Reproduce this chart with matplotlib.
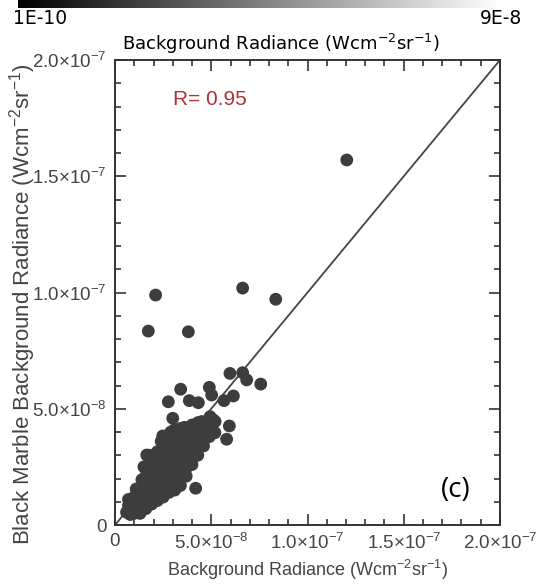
import numpy as np
import matplotlib
matplotlib.use("Agg")
import matplotlib.pyplot as plt
from matplotlib.ticker import MultipleLocator, FixedLocator

plt.rcParams['font.family'] = ['Liberation Sans', 'DejaVu Sans']
plt.rcParams['mathtext.fontset'] = 'custom'
plt.rcParams['mathtext.rm'] = 'Liberation Sans'
plt.rcParams['mathtext.it'] = 'Liberation Sans:italic'

# values in units of 1e-9 W cm^-2 sr^-1
# dense cluster along the 1:1 line (read column by column)
cluster_x = [6, 7, 7, 8,
             10, 10, 10, 11,
             13, 13, 12, 13, 14,
             16, 16, 16, 17, 16, 15,
             19, 19, 18, 19, 19, 20, 18,
             22, 22, 22, 21, 22, 23, 22,
             25, 25, 25, 24, 26, 25, 25, 24,
             28, 28, 28, 28, 27, 28, 29, 29,
             31, 31, 31, 31, 30, 31, 32, 31,
             34, 34, 34, 33, 34, 34, 35, 34,
             37, 37, 37, 37, 36, 37, 36,
             40, 40, 39, 40, 41, 40,
             43, 43, 43, 42, 43,
             46, 46, 46, 45,
             49, 49, 50, 52, 51]
cluster_y = [5.5, 8.5, 11, 4.5,
             5, 8.5, 12, 15.5,
             5, 8.5, 12, 15.5, 19.5,
             7, 10.5, 14, 17.5, 21, 25,
             9, 12.5, 16, 19.5, 23, 27, 30,
             10.5, 14, 17.5, 21, 24.5, 28, 31.5,
             12, 15.5, 19, 22.5, 26, 29.5, 33, 36,
             14, 17.5, 21, 24.5, 28, 31.5, 35, 40,
             15, 18.5, 22, 25.5, 29, 32.5, 36, 41,
             17, 20.5, 24, 27.5, 31, 34.5, 38, 41.5,
             21, 24.5, 28, 31.5, 35, 38.5, 42,
             26, 29.5, 33, 36.5, 40, 43,
             30, 33.5, 37, 40.5, 44,
             34, 37.5, 41, 44.5,
             38, 41.5, 45, 44.5, 40]

# scattered points away from the cluster
outer_x = [17.3, 38.1, 21.1, 66.3, 83.5, 120.4,
           59.7, 66.3, 68.4, 75.7, 34.1, 49.0, 50.2, 27.7, 38.6, 43.3, 56.6, 61.5,
           49.4, 51.1, 51.9, 59.4, 58.0, 30.0, 24.8, 16.5, 26.5, 41.9]
outer_y = [83.4, 83.1, 98.9, 101.9, 97.1, 157.0,
           65.2, 65.5, 62.4, 60.6, 58.4, 59.2, 55.9, 53.0, 53.5, 52.6, 53.5, 55.5,
           46.6, 45.2, 39.7, 42.6, 36.9, 45.9, 38.3, 30.1, 13.9, 15.8]

tick_vals = [0, 5e-8, 1e-7, 1.5e-7, 2e-7]
tick_labels = ['0', r'$5.0{\times}10^{-8}$', r'$1.0{\times}10^{-7}$',
               r'$1.5{\times}10^{-7}$', r'$2.0{\times}10^{-7}$']

W, H = 540, 586
fig = plt.figure(figsize=(W / 100, H / 100), dpi=100)

# greyscale colour bar strip at the top
cax = fig.add_axes([18 / W, 1 - 8 / H, (500 - 18) / W, 8 / H])
cax.imshow(np.linspace(0, 1, 256)[None, :], cmap='gray', aspect='auto')
cax.axis('off')
fig.text(13 / W, 1 - 18 / H, '1E-10', fontsize=13.5, family='DejaVu Sans', va='center', ha='left')
fig.text(522 / W, 1 - 18 / H, '9E-8', fontsize=13.5, family='DejaVu Sans', va='center', ha='right')
fig.text(281 / W, 1 - 44 / H, r'Background Radiance (Wcm$^{-2}$sr$^{-1}$)', fontsize=13,
         family='DejaVu Sans', va='center', ha='center', math_fontfamily='dejavusans')

ax = fig.add_axes([115 / W, 61 / H, 385 / W, 465 / H])
xs = np.array(cluster_x + outer_x) * 1e-9
ys = np.array(cluster_y + outer_y) * 1e-9
ax.plot([0, 2e-7], [0, 2e-7], color='#444444', lw=1.3, zorder=1)
ax.scatter(xs, ys, s=85, color='#3d3d3d', edgecolors='none', zorder=2)

ax.set_xlim(0, 2e-7)
ax.set_ylim(0, 2e-7)
for axis in (ax.xaxis, ax.yaxis):
    axis.set_major_locator(FixedLocator(tick_vals))
    axis.set_minor_locator(MultipleLocator(1e-8))
ax.set_xticklabels(tick_labels)
ax.set_yticklabels(tick_labels)
ax.tick_params(which='both', direction='in', top=True, right=True, colors='#333333',
               labelcolor='#444444', labelsize=13.5, width=1.2)
ax.tick_params(which='major', length=8, pad=6)
ax.tick_params(which='minor', length=4)
for sp in ax.spines.values():
    sp.set_linewidth(1.4)
    sp.set_color('#333333')

ax.set_xlabel(r'Background Radiance (Wcm$^{-2}$sr$^{-1}$)', fontsize=13, color='#444444', labelpad=3)
ax.set_ylabel(r'Black Marble Background Radiance (Wcm$^{-2}$sr$^{-1}$)', fontsize=16,
              color='#444444')
ax.yaxis.set_label_coords(-0.2, 0.475)

ax.text(30e-9, 182.8e-9, 'R= 0.95', fontsize=15, color='#b03038', va='center', ha='left')
fig.text(456 / W, 1 - 490 / H, '(c)', fontsize=20, family='Open Sans', va='center', ha='center')

fig.savefig('out.png', dpi=100)
